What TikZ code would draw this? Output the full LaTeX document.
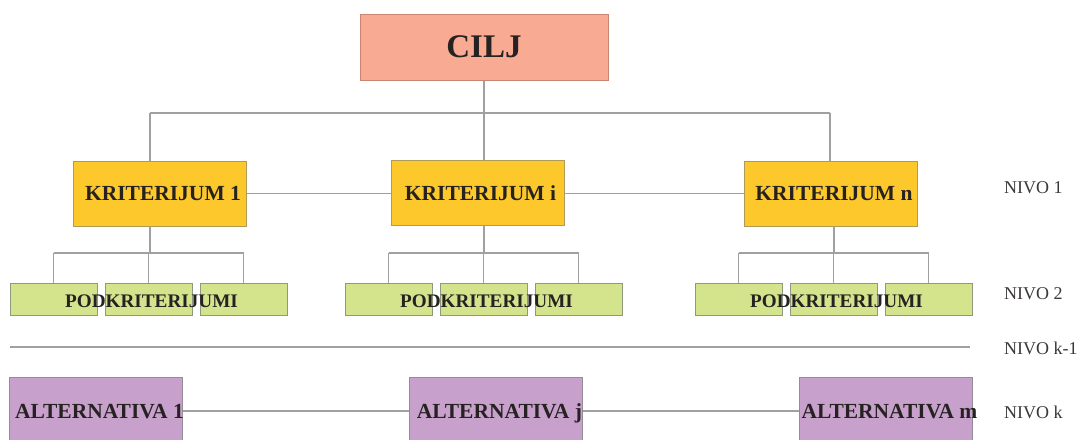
\documentclass[tikz,border=0pt]{standalone}
\usepackage{fontspec}
\setmainfont{Liberation Serif}
\definecolor{ciljfill}{HTML}{F8AA92}
\definecolor{ciljdraw}{HTML}{C98472}
\definecolor{kritfill}{HTML}{FCC82C}
\definecolor{kritdraw}{HTML}{B09A5A}
\definecolor{podfill}{HTML}{D4E48C}
\definecolor{poddraw}{HTML}{8E9A80}
\definecolor{altfill}{HTML}{C8A0CC}
\definecolor{altdraw}{HTML}{958A98}
\definecolor{wire}{HTML}{A0A0A0}
\definecolor{ink}{HTML}{262222}
\begin{document}
\begin{tikzpicture}[x=1pt,y=-1pt,
  box/.style={draw, line width=1pt, inner sep=0pt, text=ink},
  goalbox/.style={box, fill=ciljfill, draw=ciljdraw, minimum width=248pt, minimum height=66pt,
    font=\bfseries\fontsize{33}{36}\selectfont},
  critbox/.style={box, fill=kritfill, draw=kritdraw, minimum width=173pt, minimum height=65pt},
  crittext/.style={inner sep=0pt, text=ink, xshift=3pt, text height=14.5pt, text depth=0pt,
    font=\bfseries\fontsize{21.5}{23}\selectfont},
  subbox/.style={box, fill=podfill, draw=poddraw, minimum width=87pt, minimum height=32pt},
  subtext/.style={inner sep=0pt, text=ink, font=\bfseries\fontsize{19.2}{21}\selectfont},
  altbox/.style={box, fill=altfill, draw=altdraw, minimum width=173pt, minimum height=68pt},
  alttext/.style={inner sep=0pt, text=ink, xshift=4pt, text height=14.5pt, text depth=0pt,
    font=\bfseries\fontsize{21.5}{23}\selectfont},
  lvl/.style={anchor=west, inner sep=0pt, text=ink!90, font=\fontsize{18}{20}\selectfont},
  conn/.style={draw=wire, line width=1.1pt}]
\clip (0,0) rectangle (1083,439);
\fill[white] (0,0) rectangle (1083,439);

% goal
\node[goalbox] (goal) at (484,47) {CILJ};

% criteria
\node[critbox] (k1) at (160,193.5) {};
\node[critbox] (ki) at (477.5,193) {};
\node[critbox] (kn) at (831,193.5) {};

% bus from the goal to the criteria
\coordinate (b1) at (150,113);
\coordinate (bi) at (484,113);
\coordinate (bn) at (830,113);
\draw[conn] (goal.south) -- (bi);
\draw[conn] (b1) -- (bn);
\draw[conn] (b1) -- (b1 |- k1.north);
\draw[conn] (bi) -- (bi |- ki.north);
\draw[conn] (bn) -- (bn |- kn.north);

% criteria linked side by side
\draw[conn] (k1.east) -- (ki.west |- k1.east);
\draw[conn] (ki.east |- k1.east) -- (kn.west |- k1.east);

% criteria captions
\node[crittext] (k1t) at (k1.center) {KRITERIJUM 1};
\node[crittext] (kit) at (ki.center) {KRITERIJUM i};
\node[crittext] (knt) at (kn.center) {KRITERIJUM n};

% sub-criteria groups
\foreach \g/\cx/\kx/\k in {1/148.5/150/k1, 2/483.5/484/ki, 3/833.5/834/kn}{
  \node[subbox] (s\g a) at (\cx-95,299) {};
  \node[subbox] (s\g b) at (\cx,299) {};
  \node[subbox] (s\g c) at (\cx+95,299) {};
  \coordinate (t\g) at (\kx,253);
  \draw[conn] (t\g |- \k.south) -- (t\g);
  \draw[conn] (s\g a.north |- t\g) -- (s\g c.north |- t\g);
  \draw[conn] (s\g a.north |- t\g) -- (s\g a.north);
  \draw[conn] (s\g b.north |- t\g) -- (s\g b.north);
  \draw[conn] (s\g c.north |- t\g) -- (s\g c.north);
  \node[subtext] (p\g) at (\cx+3,301) {PODKRITERIJUMI};
}

% level k-1 separator
\coordinate (sepL) at (10,347);
\coordinate (sepR) at (970,347);
\draw[conn] (sepL) -- (sepR);

% alternatives
\node[altbox] (a1) at (95.5,411) {};
\node[altbox] (aj) at (495.5,411) {};
\node[altbox] (am) at (885.5,411) {};
\draw[conn] (a1.east) -- (aj.west);
\draw[conn] (aj.east) -- (am.west);
\node[alttext] (a1t) at (a1.center) {ALTERNATIVA 1};
\node[alttext] (ajt) at (aj.center) {ALTERNATIVA j};
\node[alttext] (amt) at (am.center) {ALTERNATIVA m};

% level labels
\node[lvl] (n1) at (1004,188) {NIVO 1};
\node[lvl] (n2) at (1004,294) {NIVO 2};
\node[lvl] (nk1) at (1004,348) {NIVO k-1};
\node[lvl] (nk) at (1004,412) {NIVO k};
\end{tikzpicture}
\end{document}
